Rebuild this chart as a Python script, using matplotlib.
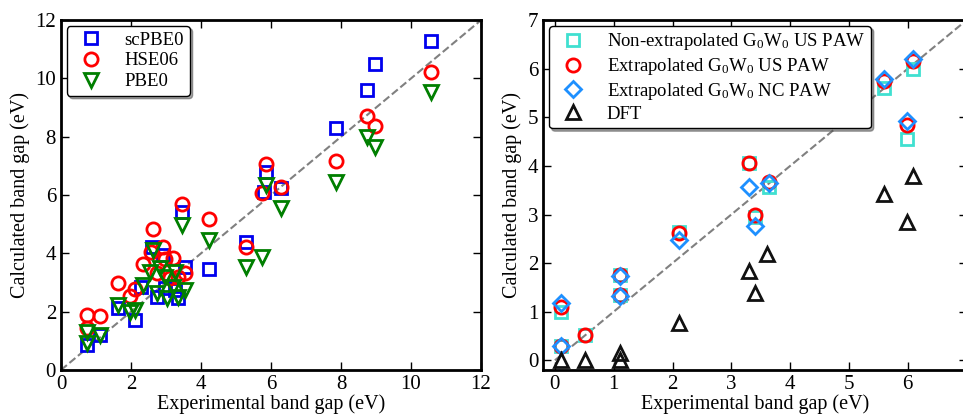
import numpy as np
import matplotlib
matplotlib.use("Agg")
import matplotlib.pyplot as plt

plt.rcParams['font.family'] = 'Liberation Serif'
plt.rcParams['mathtext.fontset'] = 'custom'
plt.rcParams['mathtext.rm'] = 'Liberation Serif'
plt.rcParams['mathtext.it'] = 'Liberation Serif:italic'
plt.rcParams['font.size'] = 14.5

# left panel: hybrid functionals
scpbe0_x = [10.56, 8.97, 8.75, 7.86, 5.86, 5.8, 6.28, 3.45, 5.29, 4.24, 3.54, 2.61, 2.92,
            2.73, 3.35, 2.3, 1.64, 2.11, 0.73, 1.11, 2.97, 3.26]
scpbe0_y = [11.3, 10.49, 9.6, 8.29, 6.78, 6.1, 6.23, 5.43, 4.4, 3.46, 3.54, 4.23, 3.94,
            2.51, 2.46, 2.86, 2.12, 1.72, 0.86, 1.2, 2.8, 2.74]

hse06_x = [10.56, 8.75, 8.97, 7.86, 5.86, 5.73, 6.28, 3.45, 4.24, 5.29, 2.64, 2.92, 2.56,
           2.97, 3.21, 2.33, 3.54, 3.35, 2.73, 1.64, 2.11, 1.97, 0.73, 1.11, 0.73, 3.11]
hse06_y = [10.23, 8.71, 8.38, 7.17, 7.06, 6.08, 6.27, 5.68, 5.17, 4.23, 4.84, 4.21, 4.06,
           3.8, 3.83, 3.63, 3.34, 3.2, 3.34, 2.97, 2.78, 2.54, 1.89, 1.85, 1.43, 3.15]

pbe0_x = [10.56, 8.75, 8.97, 7.86, 5.86, 6.28, 3.45, 4.24, 5.29, 5.73, 2.64, 2.33, 2.54,
          2.83, 2.97, 3.26, 2.73, 3.02, 3.35, 3.54, 3.21, 1.64, 1.97, 2.11, 1.11, 0.73, 0.73]
pbe0_y = [9.55, 8.0, 7.66, 6.46, 6.35, 5.55, 4.97, 4.46, 3.54, 3.89, 4.12, 2.92, 3.37,
          3.49, 3.2, 3.37, 2.63, 2.46, 2.51, 2.74, 2.86, 2.23, 2.0, 2.06, 1.2, 1.31, 0.91]

# right panel: G0W0
gw_x = [0.11, 0.11, 0.51, 1.1, 1.1, 2.11, 3.3, 3.64, 3.4, 5.6, 5.99, 6.09]
nonext_us_y = [1.0, 0.29, 0.52, 1.75, 1.34, 2.64, 4.06, 3.56, 2.95, 5.6, 4.56, 6.0]
ext_us_y = [1.1, 0.29, 0.52, 1.75, 1.34, 2.62, 4.07, 3.67, 2.98, 5.74, 4.85, 6.16]

nc_x = [0.11, 0.11, 1.1, 1.1, 2.11, 3.3, 3.4, 3.64, 5.6, 5.99, 6.09]
ext_nc_y = [1.17, 0.29, 1.73, 1.33, 2.47, 3.56, 2.76, 3.64, 5.79, 4.92, 6.2]

dft_x = [0.11, 0.51, 1.1, 1.1, 2.11, 3.3, 3.4, 3.6, 5.6, 5.99, 6.09]
dft_y = [0.0, 0.0, 0.15, 0.0, 0.76, 1.83, 1.38, 2.19, 3.42, 2.85, 3.8]

fig = plt.figure(figsize=(9.63, 4.18), dpi=100)
ax1 = fig.add_axes([0.0633, 0.1148, 0.4362, 0.837])
ax2 = fig.add_axes([0.564, 0.1148, 0.4397, 0.837])

ms = 8.5
mew = 2
leg_kw = dict(loc='upper left', numpoints=1, shadow=True, fancybox=True, fontsize=13.5,
              framealpha=1, edgecolor='black', borderaxespad=0.3, handletextpad=0.8,
              labelspacing=0.2, borderpad=0.3)

ax1.plot([0, 12], [0, 12], '--', color='gray', lw=1.5)
ax1.plot(scpbe0_x, scpbe0_y, 's', mfc='none', mec='#0000ee', ms=ms, mew=mew, label='scPBE0')
ax1.plot(hse06_x, hse06_y, 'o', mfc='none', mec='#ff0000', ms=ms + 1, mew=mew, label='HSE06')
ax1.plot(pbe0_x, pbe0_y, 'v', mfc='none', mec='#007f00', ms=ms + 2, mew=mew, label='PBE0')
ax1.set_xlim(0, 12)
ax1.set_ylim(0, 12)
ax1.set_xticks(np.arange(0, 13, 2))
ax1.set_yticks(np.arange(0, 13, 2))
ax1.set_xlabel('Experimental band gap (eV)', labelpad=0)
ax1.set_ylabel('Calculated band gap (eV)')
ax1.legend(**leg_kw)

ax2.plot([0, 7], [0, 7], '--', color='gray', lw=1.5)
ax2.plot(gw_x, nonext_us_y, 's', mfc='none', mec='#40e0d0', ms=ms, mew=mew,
         label='Non-extrapolated G$_0$W$_0$ US PAW')
ax2.plot(gw_x, ext_us_y, 'o', mfc='none', mec='#ff0000', ms=ms + 1, mew=mew,
         label='Extrapolated G$_0$W$_0$ US PAW')
ax2.plot(nc_x, ext_nc_y, 'D', mfc='none', mec='#1e90ff', ms=ms, mew=mew,
         label='Extrapolated G$_0$W$_0$ NC PAW')
ax2.plot(dft_x, dft_y, '^', mfc='none', mec='#111111', ms=ms + 2, mew=mew, label='DFT')
ax2.set_xlim(-0.2, 7)
ax2.set_ylim(-0.2, 7)
ax2.set_xticks(np.arange(0, 8, 1))
ax2.set_yticks(np.arange(0, 8, 1))
ax2.set_xlabel('Experimental band gap (eV)', labelpad=0)
ax2.set_ylabel('Calculated band gap (eV)')
ax2.legend(**leg_kw)

for ax in (ax1, ax2):
    ax.tick_params(direction='in', top=True, right=True, length=6, width=1, labelsize=15)
    for sp in ax.spines.values():
        sp.set_linewidth(2)

fig.savefig('out.png', dpi=100)
